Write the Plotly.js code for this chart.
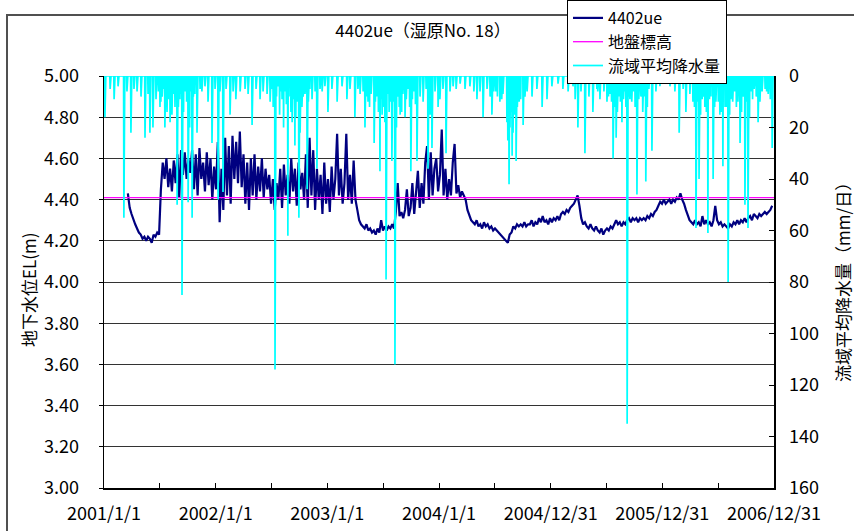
<!DOCTYPE html>
<html><head><meta charset="utf-8">
<script src="https://cdn.plot.ly/plotly-3.0.1.min.js"></script>
<style>html,body{margin:0;padding:0;background:#fff}#chart{width:854px;height:531px}</style>
</head><body><div id="chart"></div>
<script>
// ---- groundwater level 4402ue (m), one reading every 6 days from gwStart ----
const gwStart = '2001-03-20';
const gwStepDays = 6;
const gwLevel = [
4.43,4.36,4.33,4.30,4.28,4.26,4.24,4.23,4.21,4.22,
4.20,4.22,4.21,4.19,4.23,4.22,4.24,4.23,
4.45,4.58,4.50,4.60,4.46,4.55,4.44,4.59,4.48,4.62,
4.41,4.64,4.52,4.63,4.50,4.60,4.53,4.64,4.45,4.62,
4.42,4.65,4.50,4.58,4.44,4.63,4.47,4.60,4.40,4.56,
4.45,4.68,4.29,4.55,4.35,4.70,4.42,4.66,4.38,4.71,
4.50,4.68,4.48,4.73,4.46,4.62,4.38,4.58,4.35,4.60,
4.42,4.62,4.40,4.56,4.44,4.60,4.41,4.55,4.45,4.52,
4.38,4.50,4.35,4.48,4.40,4.55,4.36,4.57,4.42,4.52,
4.38,4.60,4.44,4.55,4.37,4.58,4.45,4.53,4.40,4.62,
4.36,4.70,4.42,4.64,4.35,4.55,4.40,4.52,4.33,4.58,
4.38,4.50,4.34,4.56,4.40,4.50,4.72,4.42,4.55,4.38,
4.48,4.72,4.40,4.52,4.38,4.59,4.40,4.35,4.30,4.28,
4.27,4.26,4.28,4.25,4.26,4.24,4.25,4.23,4.26,4.24,
4.30,4.25,4.27,4.25,4.27,4.26,4.28,4.26,4.34,4.48,
4.32,4.34,4.31,4.35,4.45,4.32,4.36,4.48,4.33,4.42,
4.54,4.36,4.48,4.38,4.58,4.66,4.40,4.63,4.42,4.55,
4.60,4.44,4.52,4.74,4.42,4.55,4.40,4.50,4.42,4.58,
4.67,4.43,4.47,4.41,4.44,4.42,4.40,4.35,4.32,4.30,
4.29,4.28,4.30,4.27,4.28,4.26,4.29,4.27,4.28,4.26,
4.27,4.25,4.26,4.25,4.24,4.23,4.22,4.21,4.20,4.19,
4.23,4.24,4.27,4.26,4.28,4.27,4.28,4.27,4.29,4.27,
4.28,4.28,4.30,4.27,4.29,4.28,4.31,4.29,4.32,4.29,
4.30,4.28,4.31,4.29,4.31,4.30,4.32,4.30,4.33,4.34,
4.33,4.35,4.34,4.36,4.37,4.38,4.40,4.42,4.37,4.31,
4.28,4.29,4.27,4.26,4.28,4.26,4.25,4.27,4.25,4.24,
4.26,4.23,4.25,4.26,4.25,4.27,4.26,4.28,4.30,4.28,
4.29,4.27,4.29,4.28,4.30,4.31,4.29,4.31,4.30,4.31,
4.29,4.31,4.30,4.31,4.30,4.32,4.31,4.33,4.32,4.34,
4.35,4.37,4.39,4.38,4.40,4.38,4.39,4.40,4.38,4.40,
4.39,4.41,4.40,4.43,4.40,4.38,4.35,4.32,4.30,4.29,
4.28,4.30,4.28,4.29,4.27,4.32,4.28,4.30,4.28,4.29,
4.27,4.30,4.37,4.30,4.28,4.29,4.27,4.28,4.27,4.26,
4.28,4.27,4.29,4.28,4.30,4.28,4.30,4.29,4.31,4.29,
4.31,4.32,4.30,4.33,4.32,4.31,4.33,4.32,4.33,4.34,
4.33,4.34,4.35,4.37
];

// ---- ground elevation (m) ----
const groundDates = ['2001-01-01', '2006-12-31'];
const groundLevel = [4.41, 4.41];

// ---- basin average daily precipitation (mm/day); days not listed are 0 ----
const rainStart = '2001-01-01';
const rainEnd = '2006-12-31';
const rainDates = [
'2001-01-04','2001-01-21','2001-02-03','2001-02-16','2001-03-07','2001-03-17','2001-03-30','2001-04-09','2001-04-19','2001-05-02',
'2001-05-15','2001-05-25','2001-05-31','2001-06-10','2001-06-20','2001-07-03','2001-07-10','2001-07-19','2001-07-26','2001-07-29',
'2001-08-05','2001-08-08','2001-08-15','2001-08-21','2001-08-28','2001-09-06','2001-09-13','2001-09-23','2001-10-03','2001-10-16',
'2001-10-25','2001-11-01','2001-11-11','2001-11-17','2001-11-27','2001-12-07','2001-12-20','2001-12-30',
'2002-01-09','2002-01-15','2002-01-25','2002-02-04','2002-02-17','2002-02-27','2002-03-08','2002-03-22','2002-04-07','2002-04-17',
'2002-04-30','2002-05-13','2002-05-26','2002-06-05','2002-06-18','2002-06-28','2002-07-04','2002-07-14','2002-07-24','2002-08-06',
'2002-08-16','2002-08-25','2002-09-01','2002-09-08','2002-09-17','2002-09-24','2002-09-30','2002-10-10','2002-10-20','2002-10-27',
'2002-11-05','2002-11-12','2002-11-22','2002-11-28','2002-12-08','2002-12-15','2002-12-24',
'2003-01-03','2003-01-16','2003-02-02','2003-02-18','2003-03-06','2003-03-16','2003-04-01','2003-04-11','2003-04-18','2003-04-28',
'2003-05-04','2003-05-14','2003-05-24','2003-06-03','2003-06-12','2003-06-22','2003-06-29','2003-07-05','2003-07-12','2003-07-18',
'2003-07-25','2003-07-31','2003-08-10','2003-08-20','2003-08-27','2003-09-05','2003-09-12','2003-09-22','2003-10-01','2003-10-11',
'2003-10-21','2003-10-31','2003-11-10','2003-11-20','2003-11-26','2003-12-03','2003-12-09','2003-12-19','2003-12-29',
'2004-01-04','2004-01-14','2004-01-24','2004-02-06','2004-02-16','2004-02-26','2004-03-10','2004-03-26','2004-04-11','2004-04-24',
'2004-05-04','2004-05-14','2004-05-24','2004-06-06','2004-06-16','2004-06-22','2004-07-05','2004-07-18','2004-07-28','2004-08-10',
'2004-08-17','2004-08-23','2004-08-27','2004-09-02','2004-09-09','2004-09-19','2004-10-02','2004-10-15','2004-10-31','2004-11-16',
'2004-12-03','2004-12-19',
'2005-01-04','2005-01-24','2005-02-09','2005-02-26','2005-03-14','2005-03-21','2005-03-30','2005-04-09','2005-04-22','2005-05-05',
'2005-05-18','2005-05-31','2005-06-10','2005-06-23','2005-07-03','2005-07-13','2005-07-23','2005-08-02','2005-08-11','2005-08-21',
'2005-08-31','2005-09-07','2005-09-16','2005-09-29','2005-10-09','2005-10-22','2005-11-07','2005-11-17','2005-11-27','2005-12-10',
'2005-12-23',
'2006-01-09','2006-01-25','2006-02-10','2006-02-24','2006-03-09','2006-03-18','2006-03-31','2006-04-10','2006-04-20','2006-04-30',
'2006-05-10','2006-05-19','2006-05-29','2006-06-08','2006-06-15','2006-06-24','2006-07-07','2006-07-17','2006-07-24','2006-08-03',
'2006-08-12','2006-08-25','2006-09-04','2006-09-11','2006-09-21','2006-09-27','2006-10-07','2006-10-17','2006-10-27','2006-11-09',
'2006-11-22','2006-12-02','2006-12-12','2006-12-25',
// smaller rain days
'2001-06-28','2001-07-06','2001-07-15','2001-08-01','2001-08-11','2001-08-24','2001-09-01','2001-09-10','2001-09-18','2001-09-28',
'2001-10-08','2001-10-12','2001-10-20',
'2002-07-08','2002-07-19','2002-07-29','2002-08-01','2002-08-11','2002-08-20','2002-09-04','2002-09-12','2002-09-20','2002-10-04',
'2002-10-14','2002-10-31',
'2003-05-09','2003-05-19','2003-06-07','2003-06-17','2003-06-25','2003-07-02','2003-07-08','2003-07-22','2003-08-04','2003-08-15',
'2003-08-24','2003-09-01','2003-09-16','2003-09-27','2003-10-06','2003-10-16',
'2004-06-28','2004-07-10','2004-07-24','2004-08-13','2004-08-20','2004-08-25','2004-08-30','2004-09-05','2004-09-13','2004-09-24',
'2004-10-08',
'2005-06-03','2005-07-08','2005-07-18','2005-07-28','2005-08-06','2005-08-16','2005-08-26','2005-09-03','2005-09-11','2005-09-22',
'2005-10-03','2005-10-15','2005-10-28','2005-11-02','2005-11-12',
'2006-04-15','2006-04-25','2006-05-05','2006-05-14','2006-05-24','2006-06-03','2006-06-20','2006-07-02','2006-07-12','2006-07-29',
'2006-08-08','2006-08-18','2006-08-30','2006-09-16','2006-10-02','2006-10-12','2006-10-22','2006-11-03','2006-11-15','2006-12-07',
'2006-12-19'
];
const rainMM = [
16,5,9,4,55,6,22,5,6,8,
24,7,22,20,9,12,8,20,14,5,
18,10,7,12,50,9,85,6,49,55,
7,22,5,6,4,10,26,5,
48,6,45,5,15,6,9,6,5,7,
19,5,9,6,7,10,5,114,4,9,
6,62,8,18,27,10,55,12,7,44,
5,9,6,36,5,6,4,
14,5,10,4,9,5,16,5,7,6,
20,10,7,26,8,37,15,6,79,7,
10,33,112,8,15,7,16,5,37,6,
33,8,10,5,36,15,28,6,12,
9,5,30,6,4,5,3,5,4,6,
9,6,16,5,8,15,6,10,7,18,
42,12,31,8,33,10,19,6,8,5,
12,9,
4,3,5,6,4,9,20,6,30,8,
14,5,9,6,10,7,32,24,8,18,
6,135,9,6,46,8,41,5,29,6,
4,
3,4,6,22,5,14,7,10,59,40,
9,12,61,8,40,10,15,35,12,80,
9,6,10,26,8,50,59,6,5,18,
6,5,7,28,
6,10,5,9,15,8,12,7,14,10,
20,6,8,
12,8,15,6,20,11,14,9,16,22,
8,10,
8,12,10,14,9,12,18,14,10,20,
12,14,9,12,9,11,
6,8,9,25,20,14,22,15,12,9,
8,
6,8,10,12,14,10,9,12,8,10,
12,9,14,8,12,
12,10,15,8,14,9,12,10,14,12,
15,10,12,14,10,16,9,8,10,6,
9
];

const xTickVals = ['2001-01-01','2002-01-01','2003-01-01','2004-01-01','2004-12-31','2005-12-31','2006-12-31'];
const xTickText = ['2001/1/1','2002/1/1','2003/1/1','2004/1/1','2004/12/31','2005/12/31','2006/12/31'];
const xMinorVals = ['2001-07-02','2002-07-02','2003-07-02','2004-07-01','2005-07-01','2006-07-01'];

// ---- build series ----
const DAY = 86400000;
function iso(ms){ return new Date(ms).toISOString().slice(0,10); }
const gwT0 = Date.parse(gwStart + 'T00:00:00Z');
const gwDates = gwLevel.map((_, i) => iso(gwT0 + i * gwStepDays * DAY));

const rainMap = {};
rainDates.forEach((d, i) => { rainMap[d] = rainMM[i]; });
const rT0 = Date.parse(rainStart + 'T00:00:00Z');
const rT1 = Date.parse(rainEnd + 'T00:00:00Z');
const rainX = [], rainY = [];
for (let t = rT0; t <= rT1; t += DAY) {
  const d = iso(t);
  rainX.push(d);
  rainY.push(rainMap[d] || 0);
}

const FONT = '"Noto Sans CJK JP", "Noto Sans", sans-serif';
const px = v => (v - 104) / 670;          // pixel → paper x
const py = v => (488 - v) / 412;          // pixel → paper y

const traces = [
  {x: gwDates, y: gwLevel, type: 'scatter', mode: 'lines', name: '4402ue',
   line: {color: '#000080', width: 2.2}, yaxis: 'y'},
  {x: groundDates, y: groundLevel, type: 'scatter', mode: 'lines', name: '地盤標高',
   line: {color: '#FF00FF', width: 1.3}, yaxis: 'y'},
  {x: rainX, y: rainY, type: 'scatter', mode: 'lines', name: '流域平均降水量',
   line: {color: '#00FFFF', width: 1.7}, yaxis: 'y2'}
];

const layout = {
  width: 854, height: 531,
  margin: {l: 104, r: 80, t: 76, b: 43, autoexpand: false},
  paper_bgcolor: '#fff', plot_bgcolor: '#fff',
  font: {family: FONT, size: 18, color: '#000'},
  showlegend: true,
  title: {text: '4402ue（湿原No. 18）', x: px(423), xref: 'paper', xanchor: 'center',
          y: 1 - 31/531, yref: 'container', yanchor: 'middle', font: {size: 17, family: FONT}},
  legend: {x: px(567), y: py(0), xanchor: 'left', yanchor: 'top',
           bgcolor: '#fff', bordercolor: '#000', borderwidth: 1,
           font: {size: 16, family: FONT}, tracegroupgap: 0,
           entrywidth: 157, entrywidthmode: 'pixels'},
  xaxis: {type: 'date', range: ['2001-01-01', '2006-12-31'],
          tickmode: 'array', tickvals: xTickVals, ticktext: xTickText,
          ticks: 'inside', ticklen: 5, tickcolor: '#000', tickwidth: 1,
          minor: {tickmode: 'array', tickvals: xMinorVals, ticks: 'inside', ticklen: 5, tickcolor: '#000', showgrid: false},
          showgrid: false, showline: true, linecolor: '#000', linewidth: 1.5,
          zeroline: false, tickfont: {size: 18}, ticklabelstandoff: 9},
  yaxis: {range: [3, 5], dtick: 0.2, tick0: 3, tickformat: '.2f',
          showgrid: true, gridcolor: '#333333', gridwidth: 1,
          ticks: 'outside', ticklen: 4, tickcolor: '#000',
          showline: true, linecolor: '#000', linewidth: 1.5, zeroline: false,
          tickfont: {size: 18}, ticklabelstandoff: 16},
  yaxis2: {range: [160, 0], dtick: 20, tick0: 0, overlaying: 'y', side: 'right',
           showgrid: false, ticks: 'inside', ticklen: 5, tickcolor: '#000',
           showline: true, linecolor: '#000', linewidth: 1.5, zeroline: false,
           tickfont: {size: 18}, ticklabelstandoff: 10},
  annotations: [
    {text: '地下水位EL(m)', xref: 'paper', yref: 'paper', x: px(28), y: py(290),
     xanchor: 'center', yanchor: 'middle', textangle: -90, showarrow: false,
     font: {size: 17, family: FONT}},
    {text: '流域平均降水量（mm/日）', xref: 'paper', yref: 'paper', x: px(842), y: py(278),
     xanchor: 'center', yanchor: 'middle', textangle: -90, showarrow: false,
     font: {size: 17, family: FONT}}
  ],
  shapes: [
    {type: 'rect', xref: 'paper', yref: 'paper', x0: px(7), x1: px(870), y0: py(545), y1: py(15),
     line: {color: '#505050', width: 2}, layer: 'below'}
  ]
};

Plotly.newPlot('chart', traces, layout, {staticPlot: true, displayModeBar: false});
</script>
</body></html>
